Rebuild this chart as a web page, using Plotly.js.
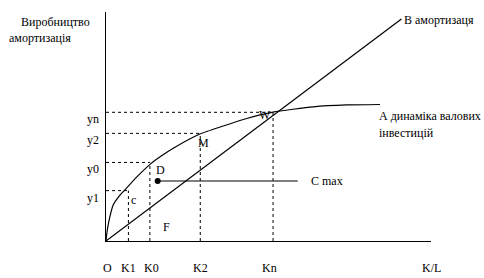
<!DOCTYPE html>
<html>
<head>
<meta charset="utf-8">
<script src="https://cdn.plot.ly/plotly-3.0.1.min.js"></script>
<style>html,body{margin:0;padding:0;background:#fff;}#chart{width:484px;height:278px;}</style>
</head>
<body>
<div id="chart"></div>
<script>
// Investment curve (А динаміка валових інвестицій)
const curveX = [0, 0.04, 0.12, 0.22, 0.40, 0.58, 0.95, 1.40, 1.71, 2.07, 2.89, 3.61, 4.33, 5.14, 6.38, 7.41, 8.43];
const curveY = [0, 0.48, 1.06, 1.57, 1.95, 2.23, 2.80, 3.40, 3.72, 4.05, 4.67, 5.02, 5.35, 5.63, 5.86, 5.94, 5.96];
// Depreciation line (В амортизація)
const lineX = [0, 9.09];
const lineY = [0, 9.69];
// Reference levels
const kNames = ['K1', 'K0', 'K2', 'Kn'];
const kVals = [0.69, 1.35, 2.90, 5.14];
const yNames = ['y1', 'y0', 'y2', 'yn'];
const yVals = [2.20, 3.43, 4.70, 5.62];
// C max arrow
const cMaxX = [1.59, 5.9];
const cMaxY = [2.62, 2.62];
// Axis tick labels
const xTickText = ['O', 'K1', 'K0', 'K2', 'Kn', 'K/L'];
const xTickVals = [0.06, 0.69, 1.40, 2.92, 5.04, 10];
// Point labels
const pointText = ['W', 'M', 'D', 'c', 'F'];
const pointX = [4.89, 3.0, 1.69, 0.84, 1.85];
const pointY = [5.50, 4.28, 3.10, 1.79, 0.61];

const FONT = {family: 'Liberation Serif', size: 12, color: '#000'};
const traces = [];
for (let i = 0; i < kVals.length; i++) {
  traces.push({x: [0, kVals[i]], y: [yVals[i], yVals[i]], mode: 'lines', line: {color: '#000', width: 1, dash: 'dot'}, hoverinfo: 'skip'});
  traces.push({x: [kVals[i], kVals[i]], y: [0, yVals[i]], mode: 'lines', line: {color: '#000', width: 1, dash: 'dot'}, hoverinfo: 'skip'});
}
traces.push({x: curveX, y: curveY, mode: 'lines', line: {color: '#000', width: 1.2, shape: 'spline', smoothing: 0.5}});
traces.push({x: lineX, y: lineY, mode: 'lines', line: {color: '#000', width: 1.2}});
traces.push({x: cMaxX, y: cMaxY, mode: 'lines', line: {color: '#000', width: 1.2}});
traces.push({x: [cMaxX[0]], y: [cMaxY[0]], mode: 'markers', marker: {color: '#000', size: 6}});

const ann = [];
xTickText.forEach((t, i) => ann.push({xref: 'x', yref: 'paper', x: xTickVals[i], y: -0.118, text: t, showarrow: false, xanchor: 'center', yanchor: 'middle'}));
yNames.forEach((t, i) => ann.push({xref: 'paper', yref: 'y', x: -0.0185, y: yVals[i], yshift: -7, text: t, showarrow: false, xanchor: 'right', yanchor: 'middle'}));
pointText.forEach((t, i) => ann.push({x: pointX[i], y: pointY[i], text: t, showarrow: false, xanchor: 'center', yanchor: 'middle'}));
ann.push({xref: 'paper', yref: 'paper', x: -0.302, y: 0.92, text: '&nbsp;&nbsp;&nbsp;&nbsp;Виробництво<br>амортизація', align: 'left', showarrow: false, xanchor: 'left', yanchor: 'middle'});
ann.push({x: 9.14, y: 9.65, text: 'В амортизаця', showarrow: false, xanchor: 'left', yanchor: 'middle'});
ann.push({x: 8.37, y: 5.46, text: 'А динаміка валових', showarrow: false, xanchor: 'left', yanchor: 'middle'});
ann.push({x: 8.37, y: 4.72, text: 'інвестицій', showarrow: false, xanchor: 'left', yanchor: 'middle'});
ann.push({x: 6.28, y: 2.62, text: 'C max', showarrow: false, xanchor: 'left', yanchor: 'middle'});
ann.forEach(a => { a.font = FONT; a.borderpad = 0; });

const layout = {
  width: 484, height: 278,
  margin: {l: 106, r: 53, t: 12, b: 37, pad: 0},
  paper_bgcolor: '#fff', plot_bgcolor: '#fff',
  showlegend: false,
  font: FONT,
  xaxis: {range: [0, 10], showline: true, linecolor: '#000', linewidth: 1, showgrid: false, zeroline: false, showticklabels: false, ticks: '', fixedrange: true},
  yaxis: {range: [0, 10], showline: true, linecolor: '#000', linewidth: 1, showgrid: false, zeroline: false, showticklabels: false, ticks: '', fixedrange: true},
  annotations: ann
};
Plotly.newPlot('chart', traces, layout, {staticPlot: true, displayModeBar: false});
</script>
</body>
</html>
